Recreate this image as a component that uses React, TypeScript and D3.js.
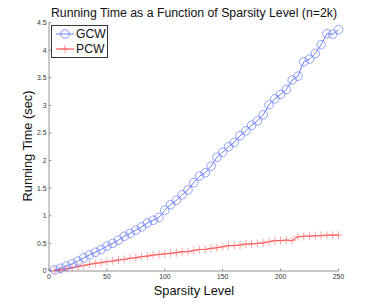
import React from "react";
import * as d3 from "d3";

const sparsity = [5,10,15,20,25,30,35,40,45,50,55,60,65,70,75,80,85,90,95,100,105,110,115,120,125,130,135,140,145,150,155,160,165,170,175,180,185,190,195,200,205,210,215,220,225,230,235,240,245,250];
const gcw = [0.02,0.05,0.09,0.13,0.18,0.24,0.29,0.34,0.39,0.45,0.50,0.56,0.63,0.68,0.74,0.80,0.87,0.92,0.97,1.10,1.20,1.28,1.38,1.47,1.60,1.72,1.78,1.90,2.06,2.15,2.25,2.33,2.45,2.54,2.64,2.72,2.83,3.01,3.12,3.20,3.29,3.46,3.53,3.79,3.84,3.94,4.10,4.30,4.29,4.37];
const pcw = [0.01,0.02,0.04,0.06,0.08,0.10,0.12,0.14,0.15,0.17,0.18,0.20,0.21,0.23,0.24,0.26,0.27,0.29,0.30,0.31,0.32,0.33,0.35,0.35,0.37,0.39,0.39,0.41,0.42,0.44,0.46,0.46,0.47,0.49,0.49,0.50,0.51,0.53,0.55,0.55,0.56,0.55,0.62,0.63,0.63,0.64,0.64,0.65,0.65,0.65];
const xTicks = [0, 50, 100, 150, 200, 250];
const yTicks = [0, 0.5, 1, 1.5, 2, 2.5, 3, 3.5, 4, 4.5];
const seriesNames = ["GCW", "PCW"];
const title = "Running Time as a Function of Sparsity Level (n=2k)";
const xLabel = "Sparsity Level";
const yLabel = "Running Time (sec)";

const W = 374, H = 305;
const left = 49, right = 338.5, top = 22.6, bottom = 271;
const font = "'Liberation Sans', Arial, sans-serif";
const blue = "#4a63ff";
const red = "#ff2020";

export default function App() {
  const x = d3.scaleLinear().domain([0, 250]).range([left, right]);
  const y = d3.scaleLinear().domain([0, 4.5]).range([bottom, top]);
  const line = d3.line<number>().x((_, i) => x(sparsity[i])).y((d) => y(d));
  return (
    <svg width={W} height={H} style={{ position: "absolute", left: 0, top: 0, background: "#fff" }}>
      <text x={194} y={16.5} textAnchor="middle" fontFamily={font} fontSize={12.3} fill="#111">{title}</text>
      <line x1={left} x2={left} y1={top} y2={bottom} stroke="#777" strokeWidth={0.8} />
      <line x1={left} x2={right} y1={bottom} y2={bottom} stroke="#777" strokeWidth={0.8} />
      {yTicks.map((t) => (
        <g key={"y" + t}>
          <line x1={left} x2={left + 2.5} y1={y(t)} y2={y(t)} stroke="#777" strokeWidth={0.8} />
          <text x={left - 2.5} y={y(t) + 2.3} textAnchor="end" fontFamily={font} fontSize={6.8} fill="#333">{t}</text>
        </g>
      ))}
      {xTicks.map((t) => (
        <g key={"x" + t}>
          <line x1={x(t)} x2={x(t)} y1={bottom} y2={bottom - 2.5} stroke="#777" strokeWidth={0.8} />
          <text x={x(t)} y={bottom + 8} textAnchor="middle" fontFamily={font} fontSize={6.8} fill="#333">{t}</text>
        </g>
      ))}
      <text x={194} y={295} textAnchor="middle" fontFamily={font} fontSize={12.8} fill="#111">{xLabel}</text>
      <text transform={`translate(32,146) rotate(-90)`} textAnchor="middle" fontFamily={font} fontSize={12.8} fill="#111">{yLabel}</text>
      <path d={line(pcw) || ""} fill="none" stroke={red} strokeWidth={0.9} />
      {pcw.map((v, i) => (
        <g key={"p" + i} stroke="#ff7070" strokeWidth={0.8} opacity={0.8}>
          <line x1={x(sparsity[i]) - 4} x2={x(sparsity[i]) + 4} y1={y(v)} y2={y(v)} />
          <line x1={x(sparsity[i])} x2={x(sparsity[i])} y1={y(v) - 4} y2={y(v) + 4} />
        </g>
      ))}
      <path d={line(gcw) || ""} fill="none" stroke={blue} strokeWidth={0.8} />
      {gcw.map((v, i) => (
        <circle key={"g" + i} cx={x(sparsity[i])} cy={y(v)} r={4.3} fill="none" stroke={blue} strokeWidth={0.7} opacity={0.85} />
      ))}
      <rect x={51.5} y={25.5} width={56} height={32} fill="#fff" stroke="#222" strokeWidth={0.9} />
      <line x1={56} x2={74} y1={34} y2={34} stroke={blue} strokeWidth={0.8} />
      <circle cx={65} cy={34} r={4.3} fill="none" stroke={blue} strokeWidth={0.7} />
      <text x={76} y={38.3} fontFamily={font} fontSize={12.2} fill="#111">{seriesNames[0]}</text>
      <line x1={56} x2={74} y1={49} y2={49} stroke={red} strokeWidth={0.9} />
      <line x1={61} x2={69} y1={49} y2={49} stroke="#ff7070" strokeWidth={0.8} />
      <line x1={65} x2={65} y1={45} y2={53} stroke="#ff7070" strokeWidth={0.8} />
      <text x={76} y={53.3} fontFamily={font} fontSize={12.2} fill="#111">{seriesNames[1]}</text>
    </svg>
  );
}
